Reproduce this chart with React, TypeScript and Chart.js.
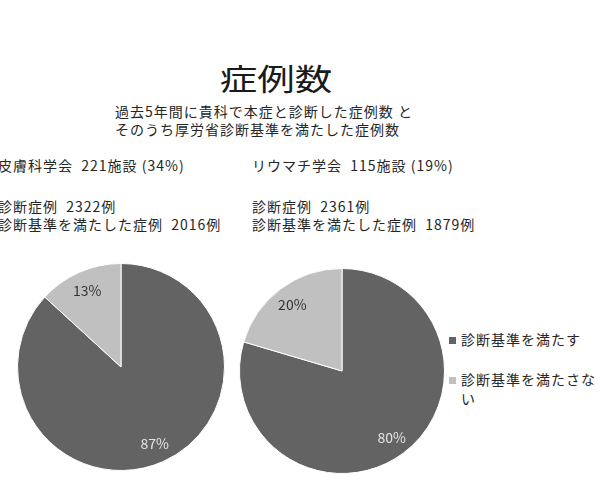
import React, { useEffect, useRef } from "react";
import { Chart, registerables } from "chart.js";

Chart.register(...registerables);

// ---- data ----
const chartTitle = "症例数";
const subtitleLines = [
  "過去5年間に貴科で本症と診断した症例数 と",
  "そのうち厚労省診断基準を満たした症例数",
];
const societies = ["皮膚科学会", "リウマチ学会"];
const facilityCounts = [221, 115];
const facilityPercents = [34, 19];
const diagnosedCases = [2322, 2361];
const metCriteriaCases = [2016, 1879];
const sliceLabels = ["診断基準を満たす", "診断基準を満たさない"];
const sliceColors = ["#636363", "#c0c0c0"];
const pctLabelColors = ["#e4e4e4", "#333333"];

const FONT = '"Noto Sans CJK JP", "Noto Sans", sans-serif';
const TEXT_COLOR = "#262626";

const pctLabelPlugin = {
  id: "pctLabels",
  afterDatasetsDraw(chart: any) {
    const ctx = chart.ctx;
    const meta = chart.getDatasetMeta(0);
    const data: number[] = chart.data.datasets[0].data;
    const total = data.reduce((a, b) => a + b, 0);
    ctx.save();
    ctx.font = `14px ${FONT}`;
    ctx.textAlign = "center";
    ctx.textBaseline = "middle";
    meta.data.forEach((arc: any, i: number) => {
      const { x, y, startAngle, endAngle, outerRadius } = arc.getProps(
        ["x", "y", "startAngle", "endAngle", "outerRadius"],
        true
      );
      const mid = (startAngle + endAngle) / 2;
      const r = outerRadius * 0.81;
      ctx.fillStyle = pctLabelColors[i];
      ctx.fillText(
        `${Math.round((data[i] / total) * 100)}%`,
        x + Math.cos(mid) * r,
        y + Math.sin(mid) * r
      );
    });
    ctx.restore();
  },
};

function Pie({ index, left, top, size }: { index: number; left: number; top: number; size: number }) {
  const ref = useRef<HTMLCanvasElement | null>(null);
  useEffect(() => {
    if (!ref.current) return;
    const met = metCriteriaCases[index];
    const notMet = diagnosedCases[index] - met;
    const chart = new Chart(ref.current, {
      type: "pie",
      data: {
        labels: sliceLabels,
        datasets: [
          {
            data: [met, notMet],
            backgroundColor: sliceColors,
            borderColor: "#ffffff",
            borderWidth: 1,
            hoverOffset: 0,
          },
        ],
      },
      options: {
        responsive: false,
        animation: false,
        events: [],
        layout: { padding: 0 },
        plugins: { legend: { display: false }, tooltip: { enabled: false } },
      },
      plugins: [pctLabelPlugin],
    });
    return () => chart.destroy();
  }, [index]);
  return (
    <canvas
      ref={ref}
      width={size}
      height={size}
      style={{ position: "absolute", left, top }}
    />
  );
}

const textStyle: React.CSSProperties = {
  position: "absolute",
  fontFamily: FONT,
  fontSize: 14,
  letterSpacing: 1,
  lineHeight: "20px",
  color: TEXT_COLOR,
  whiteSpace: "pre",
};

function Line({ x, y, children }: { x: number; y: number; children: React.ReactNode }) {
  return <div style={{ ...textStyle, left: x, top: y - 10 }}>{children}</div>;
}

export default function App() {
  const colX = [-2, 252];
  return (
    <div
      style={{
        position: "fixed",
        left: 0,
        top: 0,
        width: 603,
        height: 490,
        background: "#ffffff",
        overflow: "hidden",
      }}
    >
      <div
        style={{
          position: "absolute",
          left: 276,
          top: 77,
          transform: "translate(-50%, -50%) scaleX(1.25)",
          fontFamily: FONT,
          fontSize: 30,
          lineHeight: "40px",
          color: "#1a1a1a",
          whiteSpace: "pre",
        }}
      >
        {chartTitle}
      </div>
      <Line x={115} y={111}>{subtitleLines[0]}</Line>
      <Line x={115} y={129}>{subtitleLines[1]}</Line>

      {societies.map((s, i) => (
        <React.Fragment key={s}>
          <Line x={colX[i]} y={165}>
            {`${s}  ${facilityCounts[i]}施設 (${facilityPercents[i]}%)`}
          </Line>
          <Line x={colX[i]} y={206}>{`診断症例  ${diagnosedCases[i]}例`}</Line>
          <Line x={colX[i]} y={224}>
            {`診断基準を満たした症例  ${metCriteriaCases[i]}例`}
          </Line>
        </React.Fragment>
      ))}

      <Pie index={0} left={17} top={263} size={208} />
      <Pie index={1} left={239} top={268} size={206} />

      {sliceLabels.map((lab, i) => (
        <React.Fragment key={lab}>
          <div
            style={{
              position: "absolute",
              left: 449,
              top: [340, 380][i] - 3.5,
              width: 7,
              height: 7,
              background: sliceColors[i],
            }}
          />
          <div
            style={{
              ...textStyle,
              whiteSpace: "normal",
              left: 461,
              top: [340, 380][i] - 10,
              width: 140,
              lineHeight: "19px",
            }}
          >
            {lab}
          </div>
        </React.Fragment>
      ))}
    </div>
  );
}
